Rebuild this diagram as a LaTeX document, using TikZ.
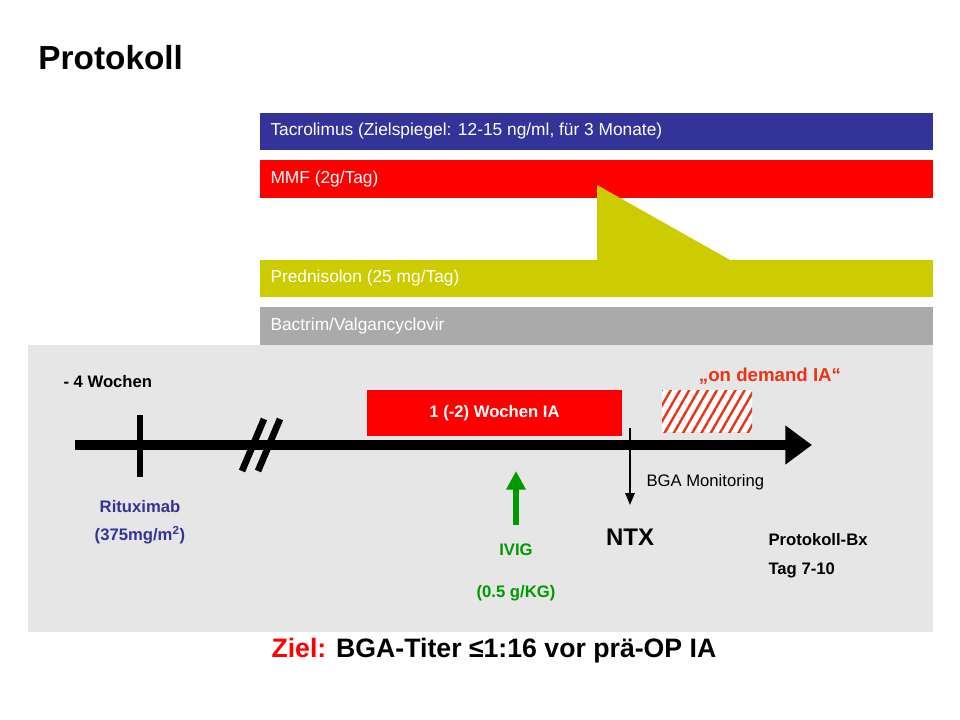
\documentclass[tikz,border=0pt]{standalone}
\usepackage{fontspec}
\setmainfont{Liberation Sans}
\usetikzlibrary{patterns.meta,arrows.meta}
\definecolor{tacblue}{RGB}{51,51,153}
\definecolor{mmfred}{RGB}{255,0,0}
\definecolor{predyel}{RGB}{204,204,0}
\definecolor{bacgray}{RGB}{170,170,170}
\definecolor{panelgray}{RGB}{230,230,230}
\definecolor{ivgreen}{RGB}{0,153,0}
\definecolor{demred}{RGB}{235,50,20}
\tikzset{every picture/.style={line width=0.75pt}}
\tikzset{
  bar/.style={anchor=west,inner sep=0pt,text=white,font=\fontsize{13}{15}\selectfont},
  lbl/.style={inner sep=0.75pt,font=\fontsize{12.5}{15}\selectfont\bfseries},
}
\begin{document}
\begin{tikzpicture}[x=0.75pt,y=0.75pt,yscale=-1,xscale=1]
\useasboundingbox (0,0) rectangle (960,720);
\fill[white] (0,0) rectangle (960,720);

% Title
\draw (37,58) node [anchor=west][inner sep=0.75pt] (title) {\fontsize{25}{30}\selectfont\bfseries Protokoll};

% Medication bars
\fill [tacblue] (260,113) rectangle (933,150);
\draw (270,131.5) node [bar] (tac) {Tacrolimus (Zielspiegel: 12-15 ng/ml, für 3 Monate)};
\fill [mmfred] (260,160) rectangle (933,198);
\draw (270,179) node [bar] (mmf) {MMF (2g/Tag)};
\fill [predyel] (260,260) rectangle (933,297);
\fill [predyel] (597,260) -- (597,185) -- (730,260) -- cycle;
\draw (270,278.5) node [bar] (pred) {Prednisolon (25 mg/Tag)};
\fill [bacgray] (260,307) rectangle (933,345);
\draw (270,326) node [bar] (bac) {Bactrim/Valgancyclovir};

% Panel
\fill [panelgray] (28,345) rectangle (933,632);

% Timeline
\coordinate (tl0) at (75,445);
\coordinate (tl1) at (812,445);
\draw [line width=7, -{Triangle[length=20,width=28]}] (tl0) -- (tl1);
\draw [line width=5] (140,415) -- (140,477);
\draw [line width=5] (242,471) -- (264,419);
\draw [line width=5] (258,471) -- (280,419);

% IA boxes
\fill [mmfred] (367,390) rectangle (622,436);
\draw (494.5,413) node [lbl,text=white] (ia) {1 (-2) Wochen IA};
\fill [white] (662,390) rectangle (752,432);
\fill [pattern={Lines[angle=60,distance=6pt,line width=1.8pt]},pattern color=demred] (662,390) rectangle (752,432);
\draw (770,376) node [lbl,text=demred,font=\fontsize{14}{16}\selectfont\bfseries] (dem) {„on demand IA“};

% Labels
\draw (62,382) node [lbl,anchor=west] (wo) {- 4 Wochen};
\draw (140,507) node [lbl,text=tacblue] (rit) {Rituximab};
\draw (140,535) node [lbl,text=tacblue] (ritd) {(375mg/m\textsuperscript{2})};

% NTX
\coordinate (ntxtop) at (630,428);
\coordinate (ntxbot) at (630,505);
\draw [line width=1.5, -{Triangle[length=9,width=7]}] (ntxtop) -- (ntxbot);
\draw (645,482) node [anchor=west,inner sep=0.75pt,font=\fontsize{12.5}{15}\selectfont] (bga) {BGA Monitoring};
\draw (630,537) node [inner sep=0.75pt,font=\fontsize{18}{20}\selectfont\bfseries] (ntx) {NTX};

% IVIG
\coordinate (ivbot) at (516,525);
\coordinate (ivtop) at (516,471);
\draw [ivgreen, line width=4, -{Triangle[length=14,width=14]}] (ivbot) -- (ivtop);
\draw (516,550) node [lbl,text=ivgreen] (ivig) {IVIG};
\draw (516,593) node [lbl,text=ivgreen] (ivd) {(0.5 g/KG)};

% Protokoll-Bx
\draw (767,540) node [lbl,anchor=west] (bx) {Protokoll-Bx};
\draw (767,570) node [lbl,anchor=west] (tag) {Tag 7-10};

% Ziel
\draw (270,651) node [anchor=west,inner sep=0.75pt,font=\fontsize{20}{24}\selectfont\bfseries] (ziel) {\textcolor{mmfred}{Ziel:} BGA-Titer ≤1:16 vor prä-OP IA};

\end{tikzpicture}
\end{document}
